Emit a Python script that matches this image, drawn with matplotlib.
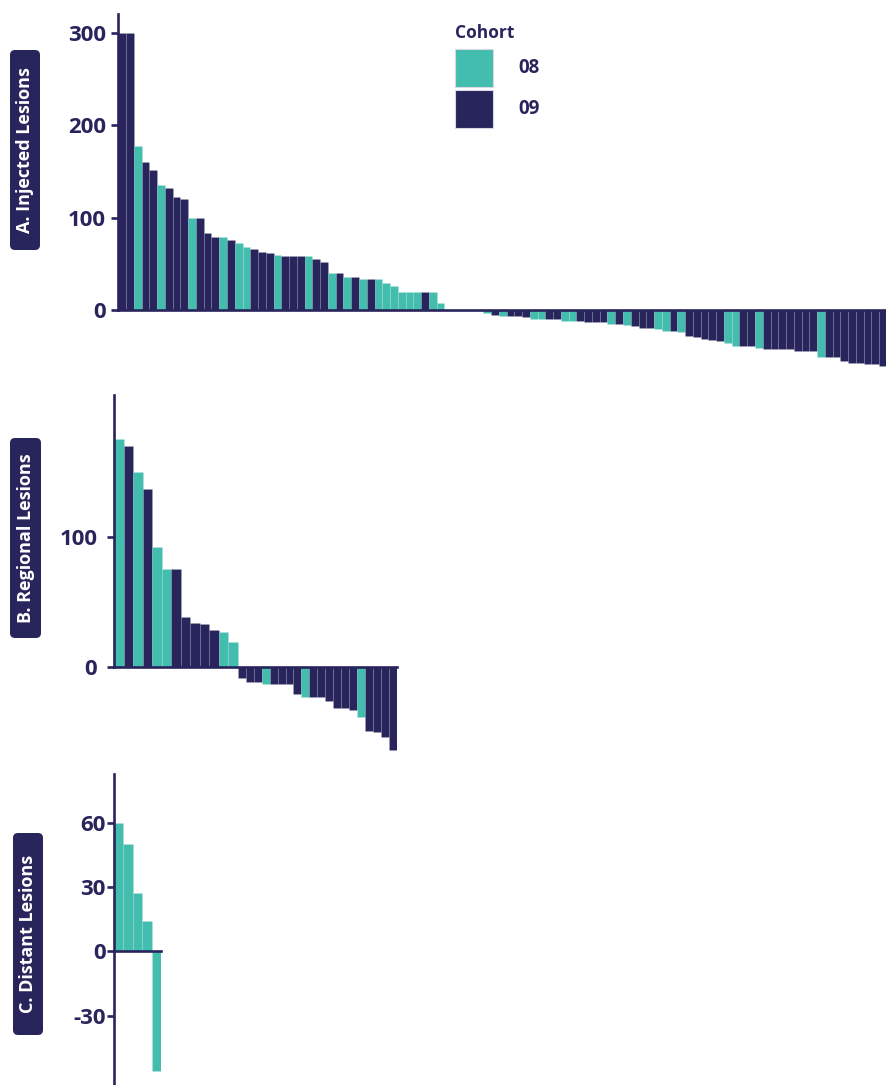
import numpy as np
import matplotlib
matplotlib.use('Agg')
import matplotlib.pyplot as plt
from matplotlib.patches import FancyBboxPatch, Rectangle
from matplotlib.transforms import IdentityTransform

plt.rcParams['font.family'] = ['Open Sans', 'DejaVu Sans']
plt.rcParams['font.weight'] = 'bold'
plt.rcParams['axes.unicode_minus'] = False

TEAL = '#42bdae'
NAVY = '#28245c'
COLORS = {'08': TEAL, '09': NAVY}

# A. injected lesions, % change per patient (sorted)
injected = [300, 300, 178, 160, 152, 135, 132, 122, 120, 100, 100, 83, 79, 79, 76, 72, 68, 66,
            62.5, 61.5, 59.5, 58, 58, 58, 58, 55.5, 52, 40, 40, 36, 36, 34, 34, 34, 29, 26,
            19, 19, 19, 19, 19, 8,
            0, 0, 0, 0, 0,
            -3.5, -5, -6.5, -6.5, -6.5, -8, -9.5, -9.5, -10, -10, -12, -12, -12, -13.5, -13.5,
            -13.5, -15, -15, -16.5, -17.5, -19.5, -19.5, -21, -22.5, -22.5, -24, -28, -29.5,
            -31.5, -33, -34, -36, -39.5, -39.5, -39.5, -41, -42.5, -42.5, -42.5, -42.5, -44,
            -45, -45, -51, -51, -51, -55, -57, -57, -58.5, -58.5, -61]
injected_cohort = ['09', '09', '08', '09', '09', '08', '09', '09', '09', '08', '09', '09', '09',
                   '08', '09', '08', '08', '09', '09', '09', '08', '09', '09', '09', '08', '09',
                   '09', '08', '09', '08', '09', '08', '09', '08', '08', '08', '08', '08', '08',
                   '09', '08', '08',
                   '09', '09', '09', '09', '09',
                   '08', '09', '08', '09', '09', '09', '08', '08', '09', '09', '08', '08', '09',
                   '09', '09', '09', '08', '09', '08', '09', '09', '09', '08', '08', '09', '08',
                   '09', '09', '09', '09', '09', '08', '08', '09', '09', '08', '09', '09', '09',
                   '09', '09', '09', '09', '08', '09', '09', '09', '09', '09', '09', '09', '09']

# B. regional lesions
regional = [175, 170, 150, 137, 92, 75, 75, 38.5, 34, 33, 28.5, 27, 19,
            -9, -12, -12, -13, -13.5, -13.5, -13.5, -21, -23.5, -23.5, -23.5, -26, -32, -32,
            -33.5, -39, -49.5, -50.5, -54, -64]
regional_cohort = ['08', '09', '08', '09', '08', '08', '09', '09', '09', '09', '09', '08', '08',
                   '09', '09', '09', '08', '09', '09', '09', '09', '08', '09', '09', '09', '09',
                   '09', '09', '08', '09', '09', '09', '09']

# C. distant lesions
distant = [60, 50, 27, 14, -56]
distant_cohort = ['08', '08', '08', '08', '08']

W, H = 887, 1085
fig = plt.figure(figsize=(W / 100, H / 100), dpi=100)


def px_axes(left, top, right, bottom):
    # pixel box (from top-left) -> figure fraction
    return fig.add_axes([left / W, (H - bottom) / H, (right - left) / W, (bottom - top) / H])


def style(ax, ylim, ticks, pad, ytop, spine_full=False):
    ax.set_ylim(*ylim)
    ax.set_yticks(ticks)
    ax.set_xticks([])
    for s in ['top', 'right']:
        ax.spines[s].set_visible(False)
    ax.spines['left'].set_linewidth(1.9)
    ax.spines['left'].set_color(NAVY)
    ax.spines['bottom'].set_linewidth(1.9)
    ax.spines['bottom'].set_color(NAVY)
    ax.spines['bottom'].set_position(('data', 0))
    if not spine_full:
        ax.spines['left'].set_bounds(0, ytop)
    ax.tick_params(axis='y', length=5, width=1.9, color=NAVY, pad=pad,
                   labelsize=16, labelcolor=NAVY)
    for lab in ax.get_yticklabels():
        lab.set_fontweight('bold')
    ax.patch.set_alpha(0)


EDGE = (1, 1, 1, 0.15)

# panel A
axA = px_axes(118.3, 14, 887, 369)
xA = np.arange(len(injected)) + 0.5
axA.bar(xA, injected, width=1.0, color=[COLORS[c] for c in injected_cohort],
        edgecolor=EDGE, linewidth=0.4)
axA.set_xlim(0, len(injected))
style(axA, (-64, 320.7), [0, 100, 200, 300], 4, 320.7)
axA.spines['bottom'].set_bounds(0, len(injected))

# panel B: bars above zero drawn a little wider, as in the original
wB = np.where(np.array(regional) > 0, 1.2, 1.0)
xB = np.cumsum(wB) - wB / 2
axB = px_axes(114, 395, 396.7, 751.2)
axB.bar(xB, regional, width=wB, color=[COLORS[c] for c in regional_cohort],
        edgecolor=EDGE, linewidth=0.4)
axB.set_xlim(0, wB.sum())
style(axB, (-65, 209), [0, 100], 7, 209)
axB.spines['bottom'].set_bounds(0, wB.sum())

# panel C
axC = px_axes(113.8, 774, 161.5, 1085)
xC = np.arange(len(distant)) + 0.5
axC.bar(xC, distant, width=1.0, color=[COLORS[c] for c in distant_cohort],
        edgecolor=EDGE, linewidth=0.4)
axC.set_xlim(0, len(distant))
style(axC, (-62.3, 82.7), [-30, 0, 30, 60], 1, 82.7, spine_full=True)
axC.spines['bottom'].set_bounds(0, len(distant))

# panel labels in rounded boxes
panel_labels = ['A. Injected Lesions', 'B. Regional Lesions', 'C. Distant Lesions']
boxes = [(10, 50, 40, 250), (10, 438, 41, 638), (13, 833, 43, 1035)]
for txt, (x0, y0, x1, y1) in zip(panel_labels, boxes):
    box = FancyBboxPatch((x0, H - y1), x1 - x0, y1 - y0,
                         boxstyle='round,pad=0,rounding_size=5',
                         transform=IdentityTransform(), facecolor=NAVY, edgecolor='none')
    fig.add_artist(box)
    fig.text((x0 + x1) / 2 + 0.5, H - (y0 + y1) / 2, txt, transform=IdentityTransform(),
             rotation=90, ha='center', va='center', color='white',
             fontsize=13, fontweight='bold')

# legend
fig.text(455, H - 33, 'Cohort', transform=IdentityTransform(), ha='left', va='center',
         color=NAVY, fontsize=12.5, fontweight='bold')
for i, (lab, col) in enumerate([('08', TEAL), ('09', NAVY)]):
    top = 49 + i * 41
    fig.add_artist(Rectangle((455, H - top - 38), 38, 38, transform=IdentityTransform(),
                             facecolor=col, edgecolor='#d8d8e4', linewidth=0.8))
    fig.text(518, H - top - 19, lab, transform=IdentityTransform(), ha='left', va='center',
             color=NAVY, fontsize=13.5, fontweight='bold')

fig.savefig('out.png', dpi=100)
